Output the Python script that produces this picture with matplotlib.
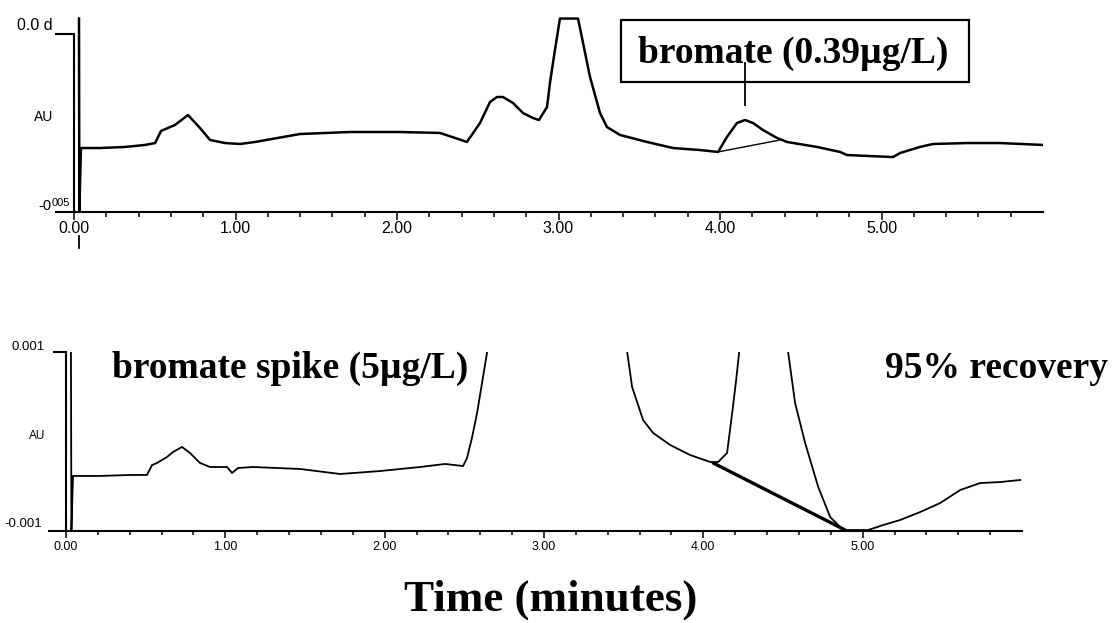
import matplotlib
matplotlib.use("Agg")
import numpy as np
import matplotlib.pyplot as plt
import matplotlib.transforms as mtransforms
from matplotlib.patches import Rectangle
from matplotlib.ticker import FixedLocator

# ---------------- data (time in minutes, absorbance in mAU) ----------------
top_time = [0.031, 0.033, 0.043, 0.161, 0.316, 0.440, 0.502, 0.539, 0.625, 0.706,
            0.780, 0.842, 0.935, 1.028, 1.121, 1.399, 1.709, 2.019, 2.266, 2.359,
            2.433, 2.514, 2.576, 2.619, 2.656, 2.718, 2.780, 2.842, 2.879, 2.929,
            2.947, 2.978, 3.009, 3.121, 3.152, 3.195, 3.257, 3.300, 3.381, 3.548,
            3.709, 3.876, 3.988, 4.043, 4.105, 4.155, 4.204, 4.266, 4.353, 4.415,
            4.601, 4.743, 4.786, 5.071, 5.115, 5.238, 5.319, 5.529, 5.734, 6.0]
top_mau = [1.13, -0.49, 0.039, 0.039, 0.048, 0.065, 0.081, 0.183, 0.233, 0.317,
           0.208, 0.107, 0.081, 0.073, 0.090, 0.157, 0.174, 0.174, 0.166, 0.124,
           0.090, 0.250, 0.427, 0.469, 0.469, 0.419, 0.334, 0.292, 0.275, 0.385,
           0.587, 0.865, 1.13, 1.13, 0.924, 0.638, 0.334, 0.216, 0.149, 0.090,
           0.039, 0.022, 0.006, 0.132, 0.250, 0.275, 0.250, 0.191, 0.124, 0.090,
           0.048, 0.006, -0.020, -0.037, -0.003, 0.048, 0.073, 0.081, 0.081, 0.065]

top_base_time = [3.988, 4.372]
top_base_mau = [0.006, 0.107]
top_marker_time = 4.155
top_marker_mau = [0.402, 0.756]
top_box_time = [3.387, 5.542]
top_box_mau = [0.596, 1.118]

bot_time = [0.031, 0.034, 0.044, 0.213, 0.402, 0.508, 0.540, 0.571, 0.634, 0.672,
            0.728, 0.778, 0.841, 0.904, 1.011, 1.042, 1.080, 1.174, 1.469, 1.720,
            1.971, 2.222, 2.379, 2.492, 2.517, 2.549, 2.580, 2.611, 2.643, 2.70,
            3.05, 3.45, 3.522, 3.553, 3.622, 3.685, 3.792, 3.917, 4.043, 4.093,
            4.149, 4.181, 4.206, 4.225, 4.30, 4.40, 4.50, 4.532, 4.576, 4.639,
            4.721, 4.796, 4.878, 5.035, 5.129, 5.235, 5.361, 5.487, 5.612, 5.738,
            5.863, 5.989]
bot_mau = [0.99, -0.99, -0.385, -0.385, -0.374, -0.374, -0.263, -0.240, -0.173, -0.117,
           -0.061, -0.128, -0.240, -0.285, -0.285, -0.352, -0.296, -0.285, -0.307, -0.363,
           -0.330, -0.285, -0.251, -0.274, -0.184, 0.050, 0.318, 0.654, 1.0, 2.0,
           8.0, 2.0, 1.0, 0.609, 0.240, 0.095, -0.039, -0.151, -0.229, -0.229,
           -0.128, 0.318, 0.687, 1.0, 2.5, 4.0, 2.0, 1.0, 0.430, -0.017,
           -0.508, -0.844, -0.989, -0.989, -0.933, -0.877, -0.788, -0.687, -0.542, -0.464,
           -0.453, -0.430]

bot_base_time = [4.062, 4.890]
bot_base_mau = [-0.240, -0.989]

major_ticks = [0, 1, 2, 3, 4, 5]
minor_ticks = [0.2, 0.4, 0.6, 0.8, 1.2, 1.4, 1.6, 1.8, 2.2, 2.4, 2.6, 2.8,
               3.2, 3.4, 3.6, 3.8, 4.2, 4.4, 4.6, 4.8, 5.2, 5.4, 5.6, 5.8]
tick_labels = ["0.00", "1.00", "2.00", "3.00", "4.00", "5.00"]

MAU = 1e-3
W, H = 1114, 623

fig = plt.figure(figsize=(W / 100, H / 100), dpi=100)
fig.patch.set_facecolor("white")

serif = {"family": "Liberation Serif", "weight": "bold"}
sans = "Liberation Sans"


def fx(px):
    return px / W


def fy(py):
    return 1 - py / H


def style_axis(ax, ymin, ytop, xlabsize, maj_len, min_len, ytick_len, ext):
    for s in ("top", "right"):
        ax.spines[s].set_visible(False)
    for s in ("left", "bottom"):
        ax.spines[s].set_linewidth(1.5)
    ax.spines["left"].set_bounds(ymin, ytop)
    ax.set_facecolor("none")
    ax.xaxis.set_major_locator(FixedLocator(major_ticks))
    ax.xaxis.set_minor_locator(FixedLocator(minor_ticks))
    ax.set_xticklabels(tick_labels, fontsize=xlabsize, family=sans)
    ax.tick_params(axis="x", which="major", direction="out", length=maj_len,
                   width=1.1, pad=1)
    ax.tick_params(axis="x", which="minor", direction="out", length=min_len,
                   width=1.1)
    ax.set_yticks([ytop])
    ax.set_yticklabels([""])
    ax.tick_params(axis="y", direction="out", length=ytick_len, width=1.5)
    # x axis line continued to the left of the y axis
    ax.plot([ext, 0], [0, 0], transform=ax.transAxes, color="black",
            lw=1.5, clip_on=False, solid_capstyle="butt")


# ---------------- top chromatogram ----------------
ax1 = fig.add_axes([fx(74), fy(212), fx(969), 195 / H])
ax1.set_xlim(0, 6.0)
ax1.set_ylim(-0.5 * MAU, 1.143 * MAU)
ax1.plot(top_time, np.array(top_mau) * MAU, color="black", lw=1.8,
         solid_joinstyle="round")
ax1.plot(top_base_time, np.array(top_base_mau) * MAU, color="black", lw=1.0)
ax1.plot([top_marker_time, top_marker_time], np.array(top_marker_mau) * MAU,
         color="black", lw=1.3, clip_on=False)
ax1.add_patch(Rectangle((top_box_time[0], top_box_mau[0] * MAU),
                        top_box_time[1] - top_box_time[0],
                        (top_box_mau[1] - top_box_mau[0]) * MAU,
                        fill=False, edgecolor="black", lw=1.6, clip_on=False))
style_axis(ax1, -0.5 * MAU, 1.0 * MAU, 11.5, 5.8, 3.6, 13.7, -0.0196)
trans1 = mtransforms.blended_transform_factory(ax1.transData, ax1.transAxes)
ax1.plot([0.031, 0.031], [-0.123, -0.185], transform=trans1, color="black",
         lw=1.3, clip_on=False)

fig.text(fx(638), fy(63), "bromate (0.39\u00b5g/L)", fontsize=27, ha="left",
         va="baseline", **serif)
fig.text(fx(53), fy(26), "0.0 d", fontsize=11.5, family=sans, ha="right",
         va="center")
fig.text(fx(53), fy(117), "AU", fontsize=10, family=sans, ha="right",
         va="center")
fig.text(fx(38), fy(210), "-0", fontsize=10.5, family=sans, ha="left",
         va="baseline")
fig.text(fx(52), fy(206), "005", fontsize=8, family=sans, ha="left",
         va="baseline")

# ---------------- bottom chromatogram ----------------
ax2 = fig.add_axes([fx(66), fy(531), fx(956), 179 / H])
ax2.set_xlim(0, 6.0)
ax2.set_ylim(-1.0 * MAU, 1.0 * MAU)
ax2.plot(bot_time, np.array(bot_mau) * MAU, color="black", lw=1.3,
         solid_joinstyle="round")
ax2.plot(bot_base_time, np.array(bot_base_mau) * MAU, color="black", lw=2.4,
         solid_capstyle="round")
style_axis(ax2, -1.0 * MAU, 1.0 * MAU, 9, 5.0, 3.0, 9.4, -0.0188)
ax2.tick_params(axis="x", which="major", pad=2.5)

fig.text(fx(45), fy(347), "0.001", fontsize=9.5, family=sans, ha="right",
         va="center")
fig.text(fx(45), fy(436), "AU", fontsize=8.5, family=sans, ha="right",
         va="center")
fig.text(fx(42), fy(524), "-0.001", fontsize=9.5, family=sans, ha="right",
         va="center")

fig.text(fx(112), fy(378), "bromate spike (5\u00b5g/L)", fontsize=27,
         ha="left", va="baseline", **serif)
fig.text(fx(885), fy(378), "95% recovery", fontsize=27, ha="left",
         va="baseline", **serif)

fig.text(fx(551), fy(611), "Time (minutes)", fontsize=32.5, ha="center",
         va="baseline", **serif)

fig.savefig("out.png", dpi=100, facecolor="white")
